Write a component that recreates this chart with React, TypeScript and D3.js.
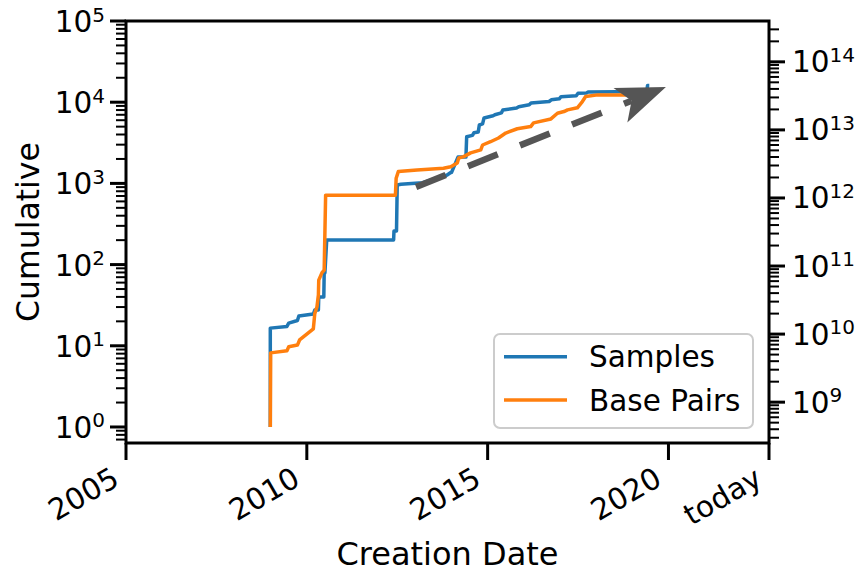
import React from 'react';
import * as d3 from 'd3';

const W = 859;
const H = 571;
const PLOT = { left: 126, right: 769, top: 21, bottom: 443 };

// x axis (fractional years)
const xDomain = [2005, 2022.78];
const xTickValues = [2005, 2010, 2015, 2020, 2022.78];
const xTickLabels = ['2005', '2010', '2015', '2020', 'today'];

// left axis (Samples)
const leftDomain = [0.635, 1e5];
const leftMajorExps = [0, 1, 2, 3, 4, 5];
// right axis (Base Pairs)
const rightDomain = [Math.pow(10, 8.4), Math.pow(10, 14.6)];
const rightMajorExps = [9, 10, 11, 12, 13, 14];

// Samples (cumulative), left axis
const sampleYears = [
  2008.99, 2008.99, 2009.45, 2009.5, 2009.74, 2009.78, 2010.18, 2010.22, 2010.32, 2010.33,
  2010.47, 2010.48, 2010.5, 2010.55, 2012.4, 2012.41, 2012.48, 2012.5, 2012.6, 2013.2,
  2013.88, 2013.98, 2014.0, 2014.18, 2014.4, 2014.42, 2014.58, 2014.62, 2014.74, 2014.77,
  2014.86, 2014.9, 2015.15, 2015.2, 2015.38, 2015.42, 2015.8, 2015.86, 2016.15, 2016.2,
  2016.7, 2016.76, 2016.98, 2017.03, 2017.45, 2017.5, 2017.74, 2017.78, 2019.4, 2019.42,
  2019.47,
];
const sampleValues = [
  1, 16.5, 17.3, 19, 20.5, 23.3, 24.6, 27.6, 27.6, 40,
  40, 79, 79, 201, 201, 259, 259, 955, 975, 1020,
  1270, 1360, 1360, 2110, 2110, 3760, 3900, 4200, 4300, 5240,
  5400, 6400, 6800, 7000, 7400, 8000, 8500, 8800, 9300, 9800,
  10200, 10700, 11000, 11700, 12000, 12900, 13000, 13400, 13500, 16000,
  16000,
];

// Base Pairs (cumulative), right axis
const basePairYears = [
  2008.99, 2009.0, 2009.45, 2009.5, 2009.74, 2009.8, 2010.18, 2010.22, 2010.28, 2010.32,
  2010.33, 2010.42, 2010.48, 2010.52, 2012.45, 2012.47, 2012.53, 2013.05, 2013.78, 2013.98,
  2014.16, 2014.2, 2014.34, 2014.53, 2014.81, 2014.86, 2015.08, 2015.3, 2015.5, 2015.82,
  2016.19, 2016.27, 2016.75, 2016.93, 2017.11, 2017.21, 2017.48, 2017.62, 2017.71, 2018.04,
  2019.51,
];
const basePairValues = [
  4.3e8, 5.3e9, 5.7e9, 6.5e9, 6.9e9, 8.2e9, 1.19e10, 2.0e10, 2.5e10, 3.75e10,
  6.2e10, 8.0e10, 8.7e10, 1.1e12, 1.1e12, 1.95e12, 2.44e12, 2.58e12, 2.73e12, 2.88e12,
  3.27e12, 3.87e12, 4.05e12, 4.6e12, 5.1e12, 6.0e12, 6.7e12, 7.6e12, 9.0e12, 1.04e13,
  1.12e13, 1.27e13, 1.45e13, 1.76e13, 1.86e13, 1.97e13, 2.11e13, 2.61e13, 3.09e13, 3.27e13,
  3.27e13,
];

// trend arrow (left-axis data units)
const arrowStart = [2013.02, 903];
const arrowEnd = [2019.93, 15380];

const seriesNames = ['Samples', 'Base Pairs'];
const seriesColors = ['#1f77b4', '#ff7f0e'];

const FONT = '"DejaVu Sans", sans-serif';

export default function App() {
  const x = d3.scaleLinear().domain(xDomain).range([PLOT.left, PLOT.right]);
  const yL = d3.scaleLog().domain(leftDomain).range([PLOT.bottom, PLOT.top]);
  const yR = d3.scaleLog().domain(rightDomain).range([PLOT.bottom, PLOT.top]);

  const line = d3.line<[number, number]>().x((d) => d[0]).y((d) => d[1]);
  const samplePath = line(sampleYears.map((t, i) => [x(t), yL(sampleValues[i])] as [number, number]));
  const bpPath = line(basePairYears.map((t, i) => [x(t), yR(basePairValues[i])] as [number, number]));

  // minor ticks
  const minorTicks = (domain: number[]) => {
    const out: number[] = [];
    const lo = Math.floor(Math.log10(domain[0]));
    const hi = Math.ceil(Math.log10(domain[1]));
    for (let e = lo; e <= hi; e++) {
      for (let m = 2; m <= 9; m++) {
        const v = m * Math.pow(10, e);
        if (v >= domain[0] && v <= domain[1]) out.push(v);
      }
    }
    return out;
  };
  const leftMinor = minorTicks(leftDomain);
  const rightMinor = minorTicks(rightDomain);

  // arrow geometry
  const sx = x(arrowStart[0]), sy = yL(arrowStart[1]);
  const tx = x(arrowEnd[0]), ty = yL(arrowEnd[1]);
  const len = Math.hypot(tx - sx, ty - sy);
  const ux = (tx - sx) / len, uy = (ty - sy) / len;
  const nx = -uy, ny = ux;
  const headLen = 49, headHalf = 18.6, notch = 37;
  const p = (a: number, b: number) => `${tx + ux * a + nx * b},${ty + uy * a + ny * b}`;
  const headPts = [p(0, 0), p(-headLen, headHalf), p(-notch, 0), p(-headLen, -headHalf)].join(' ');
  const lineEndX = tx - ux * notch, lineEndY = ty - uy * notch;

  const tickFont = 29.5;
  const supFont = 20;

  return (
    <svg width={W} height={H} style={{ position: 'absolute', left: 0, top: 0, display: 'block', background: '#fff' }}
      fontFamily={FONT}>
      <rect x={0} y={0} width={W} height={H} fill="#fff" />
      {/* series */}
      <path d={samplePath || ''} fill="none" stroke={seriesColors[0]} strokeWidth={3.5} strokeLinejoin="round" />
      <path d={bpPath || ''} fill="none" stroke={seriesColors[1]} strokeWidth={3.5} strokeLinejoin="round" />

      {/* trend arrow */}
      <line x1={sx} y1={sy} x2={lineEndX} y2={lineEndY} stroke="#555555" strokeWidth={6.5}
        strokeDasharray="32 24" />
      <polygon points={headPts} fill="#555555" />

      {/* spines */}
      <rect x={PLOT.left} y={PLOT.top} width={PLOT.right - PLOT.left} height={PLOT.bottom - PLOT.top}
        fill="none" stroke="#000" strokeWidth={3} />

      {/* left ticks */}
      {leftMajorExps.map((e) => {
        const yy = yL(Math.pow(10, e));
        return (
          <g key={'lm' + e}>
            <line x1={PLOT.left - 16} x2={PLOT.left} y1={yy} y2={yy} stroke="#000" strokeWidth={3} />
            <text x={105} y={yy + 11} textAnchor="end" fontSize={tickFont} fill="#000">
              10<tspan dy={-10.5} fontSize={supFont}>{e}</tspan>
            </text>
          </g>
        );
      })}
      {leftMinor.map((v, i) => (
        <line key={'ln' + i} x1={PLOT.left - 10} x2={PLOT.left} y1={yL(v)} y2={yL(v)} stroke="#000" strokeWidth={2} />
      ))}

      {/* right ticks */}
      {rightMajorExps.map((e) => {
        const yy = yR(Math.pow(10, e));
        return (
          <g key={'rm' + e}>
            <line x1={PLOT.right} x2={PLOT.right + 16} y1={yy} y2={yy} stroke="#000" strokeWidth={3} />
            <text x={792} y={yy + 10.5} textAnchor="start" fontSize={tickFont} fill="#000">
              10<tspan dy={-10.5} fontSize={supFont}>{e}</tspan>
            </text>
          </g>
        );
      })}
      {rightMinor.map((v, i) => (
        <line key={'rn' + i} x1={PLOT.right} x2={PLOT.right + 10} y1={yR(v)} y2={yR(v)} stroke="#000" strokeWidth={2} />
      ))}

      {/* x ticks */}
      {xTickValues.map((t, i) => {
        const xx = x(t);
        return (
          <g key={'xt' + i}>
            <line x1={xx} x2={xx} y1={PLOT.bottom} y2={PLOT.bottom + 17} stroke="#000" strokeWidth={3} />
            <text transform={`translate(${xx - 5},${484}) rotate(-30)`} textAnchor="end" fontSize={tickFont} fill="#000">
              {xTickLabels[i]}
            </text>
          </g>
        );
      })}

      {/* axis labels */}
      <text transform={`translate(38.5,${(PLOT.top + PLOT.bottom) / 2}) rotate(-90)`} textAnchor="middle"
        fontSize={31.5} fill="#000">Cumulative</text>
      <text x={(PLOT.left + PLOT.right) / 2} y={564.5} textAnchor="middle" fontSize={32} fill="#000">Creation Date</text>

      {/* legend */}
      <g>
        <rect x={494} y={334} width={259} height={94} rx={6} ry={6} fill="#fff" fillOpacity={0.8}
          stroke="#cccccc" strokeWidth={2} />
        {seriesNames.map((name, i) => (
          <g key={name}>
            <line x1={504} x2={567} y1={356.7 + i * 43.3} y2={356.7 + i * 43.3} stroke={seriesColors[i]} strokeWidth={3.5} />
            <text x={589} y={367 + i * 44} fontSize={29.5} fill="#000">{name}</text>
          </g>
        ))}
      </g>
    </svg>
  );
}
